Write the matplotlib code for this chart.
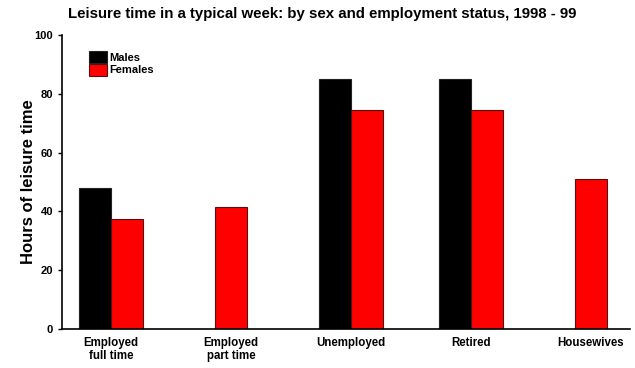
import numpy as np
import matplotlib
matplotlib.use('Agg')
from matplotlib import pyplot as plt

categories = ['Employed\nfull time', 'Employed\npart time', 'Unemployed', 'Retired', 'Housewives']
males = [48, np.nan, 85, 85, np.nan]
females = [37.5, 41.5, 74.5, 74.5, 51]
yticks = [0, 20, 40, 60, 80, 100]

plt.rcParams['font.family'] = ['Liberation Sans', 'DejaVu Sans']
plt.rcParams['font.weight'] = 'bold'

fig = plt.figure(figsize=(6.35, 3.68), dpi=100)
ax = fig.add_axes([0.0976, 0.106, 0.8944, 0.799])

w = 0.267
x = np.arange(len(categories))
m = np.array(males, dtype=float)
f = np.array(females, dtype=float)
both = ~np.isnan(m)
# 只有女性数据时居中
ax.bar(x[both] - w / 2, m[both], w, color='black', edgecolor='#222222', linewidth=0.8, label='Males')
ax.bar(np.where(both, x + w / 2, x), f, w, color='#ff0000', edgecolor='#551111', linewidth=0.8, label='Females')

ax.set_xlim(-0.41, 4.325)
ax.set_ylim(0, 100)
ax.set_yticks(yticks)
ax.set_xticks(x)
ax.set_xticklabels(categories, fontsize=8.3, fontweight='bold', linespacing=1.05)
ax.tick_params(axis='x', length=0, pad=6)
ax.tick_params(axis='y', labelsize=8, length=3, width=1, direction='out')
for lab in ax.get_yticklabels():
    lab.set_fontweight('bold')
ax.spines['top'].set_visible(False)
ax.spines['right'].set_visible(False)
ax.spines['left'].set_linewidth(1.2)
ax.spines['bottom'].set_linewidth(1.2)

ax.set_ylabel('Hours of leisure time', fontsize=12, fontweight='bold', labelpad=-1)
fig.suptitle('Leisure time in a typical week: by sex and employment status, 1998 - 99',
             x=0.507, y=0.98, fontsize=10.8, fontweight='bold')

ax.legend(loc='upper left', bbox_to_anchor=(0.03, 0.98), frameon=False,
          handlelength=1.6, handleheight=1.3, handletextpad=0.2, labelspacing=0.05,
          prop={'weight': 'bold', 'size': 8})

plt.savefig('out.png', dpi=100)
